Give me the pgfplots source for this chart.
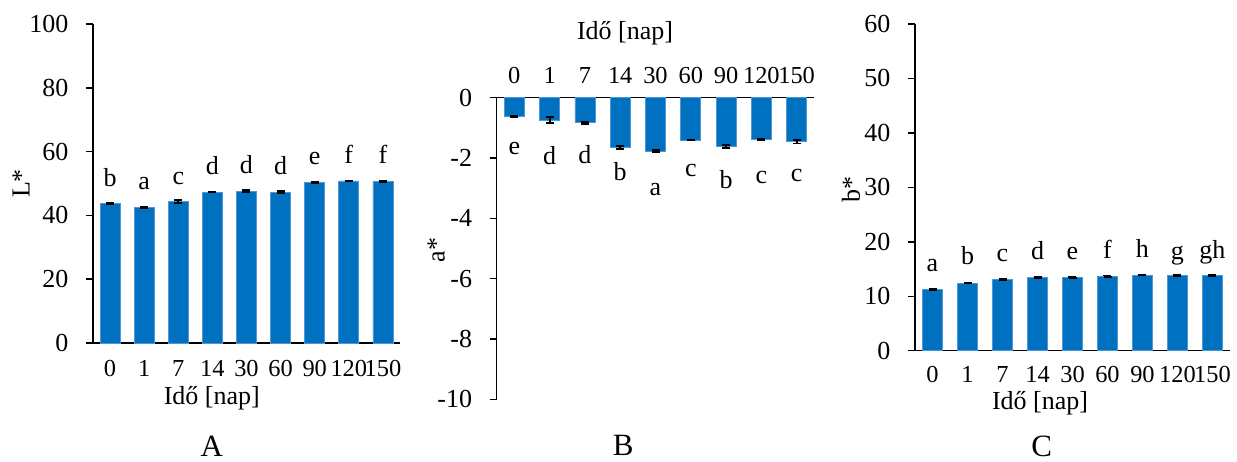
\documentclass[border=0pt]{standalone}
\usepackage{fontspec}
\setmainfont{Liberation Serif}
\usepackage{pgfplots}
\pgfplotsset{compat=1.18}
\usepackage{pgfplotstable}
\definecolor{barblue}{RGB}{0,112,192}
\definecolor{baredge}{RGB}{80,150,215}

\pgfplotstableread{
x y e
0 43.8 0.15
1 42.5 0.3
2 44.4 0.4
3 47.3 0.15
4 47.6 0.3
5 47.3 0.4
6 50.2 0.15
7 50.8 0.15
8 50.7 0.2
}\dataA
\pgfplotstableread{
x y lab
0 49.2 b
1 48.0 a
2 49.8 c
3 52.7 d
4 53.0 d
5 52.9 d
6 55.8 e
7 56.3 f
8 56.3 f
}\labA
\pgfplotstableread{
x y e
0 -0.61 0.02
1 -0.74 0.09
2 -0.83 0.03
3 -1.65 0.05
4 -1.77 0.04
5 -1.40 0.01
6 -1.62 0.05
7 -1.37 0.02
8 -1.46 0.06
}\dataB
\pgfplotstableread{
x y lab
0 -1.88 e
1 -2.21 d
2 -2.18 d
3 -2.73 b
4 -3.23 a
5 -2.62 c
6 -3.00 b
7 -2.84 c
8 -2.79 c
}\labB
\pgfplotstableread{
x y e
0 11.2 0.15
1 12.43 0.1
2 13.1 0.12
3 13.4 0.12
4 13.5 0.1
5 13.7 0.1
6 13.9 0.1
7 13.8 0.12
8 13.85 0.1
}\dataC
\pgfplotstableread{
x y lab
0 14.5 a
1 15.74 b
2 16.35 c
3 16.66 d
4 16.66 e
5 16.97 f
6 17.15 h
7 16.8 g
8 16.97 gh
}\labC

\pgfplotsset{
  panel/.style={
    scale only axis,
    anchor=south west,
    xmin=-0.5, xmax=8.5,
    xtick=data,
    xticklabels={0,1,7,14,30,60,90,120,150},
    major x tick style={draw=none},
    tick align=outside,
    major tick length=3.5pt,
    ytick pos=left,
    axis line style={black, line width=0.75pt},
    major y tick style={black, line width=0.75pt},
    /pgf/number format/assume math mode=true,
    clip=false,
    xticklabel style={font=\fontsize{12.2}{14}\selectfont},
    yticklabel style={font=\fontsize{13}{15}\selectfont, xshift=-5.3pt},
    label style={font=\fontsize{13}{15}\selectfont},
  },
  bars/.style={
    ybar, bar width=10pt, fill=barblue, draw=baredge, line width=0.4pt,
    error bars/.cd, y dir=both, y explicit,
    error bar style={black, line width=0.9pt},
    error mark options={rotate=90, mark size=2pt, black, line width=0.9pt},
  },
  letters/.style={
    draw=none, mark=none, nodes near coords, point meta=explicit symbolic,
    every node near coord/.append style={anchor=base, inner sep=0pt, font=\fontsize{13}{15}\selectfont},
  },
}

\begin{document}
\begin{tikzpicture}[font=\fontsize{13}{15}\selectfont]
\path[use as bounding box] (0,0) rectangle (618.5pt,230.5pt);

% Panel A
\begin{axis}[panel,
  at={(46.5pt,59pt)},
  width=153.5pt, height=159.5pt,
  axis lines*=left,
  ymin=0, ymax=100, ytick={0,20,40,60,80,100},
  xticklabel style={yshift=-1.5pt},
  xlabel={Idő [nap]},
  ylabel={L*},
  xlabel style={at={(axis description cs:0.387,-0.172)}, anchor=center},
  ylabel style={at={(axis description cs:-0.2345,0.5)}, anchor=center},
]
\addplot[bars] table[x=x, y=y, y error=e] {\dataA};
\addplot[letters] table[x=x, y=y, meta=lab] {\labA};
\end{axis}

% Panel B
\begin{axis}[panel,
  at={(248.35pt,30.85pt)},
  width=158.8pt, height=150.8pt,
  axis x line*=top, axis y line*=left,
  ymin=-10, ymax=0, ytick={-10,-8,-6,-4,-2,0},
  yticklabels={-10,-8,-6,-4,-2,0},
  xticklabel pos=top,
  xlabel={Idő [nap]},
  ylabel={a*},
  xlabel style={at={(axis description cs:0.404,1.2136)}, anchor=center},
  ylabel style={at={(axis description cs:-0.19,0.495)}, anchor=center},
]
\addplot[bars] table[x=x, y=y, y error=e] {\dataB};
\addplot[letters] table[x=x, y=y, meta=lab] {\labB};
\end{axis}

% Panel C
\begin{axis}[panel,
  at={(457.5pt,55.15pt)},
  width=157.5pt, height=163.35pt,
  axis lines*=left,
  ymin=0, ymax=60, ytick={0,10,20,30,40,50,60},
  xticklabel style={yshift=-1pt},
  xlabel={Idő [nap]},
  ylabel={b*},
  xlabel style={at={(axis description cs:0.397,-0.161)}, anchor=center},
  ylabel style={at={(axis description cs:-0.203,0.492)}, anchor=center},
]
\addplot[bars] table[x=x, y=y, y error=e] {\dataC};
\addplot[letters] table[x=x, y=y, meta=lab] {\labC};
\end{axis}

\node[anchor=center, font=\fontsize{15.5}{18}\selectfont] at (105.85pt,7.15pt) {A};
\node[anchor=center, font=\fontsize{15.5}{18}\selectfont] at (311.65pt,8pt) {B};
\node[anchor=center, font=\fontsize{15.5}{18}\selectfont] at (520.85pt,7.15pt) {C};
\end{tikzpicture}
\end{document}
